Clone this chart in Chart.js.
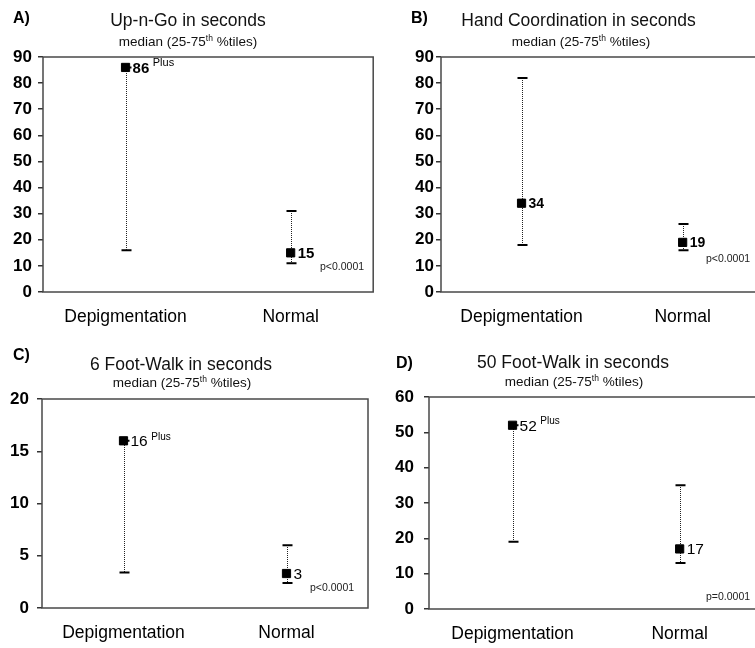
<!DOCTYPE html>
<html><head><meta charset="utf-8">
<script src="https://cdn.jsdelivr.net/npm/chart.js@4/dist/chart.umd.min.js"></script>
<style>
html,body{margin:0;padding:0;background:#fff;}
#wrap{position:relative;width:755px;height:648px;overflow:hidden;background:#fff;}
canvas{position:absolute;}
</style></head><body>
<div id="wrap">
<canvas id="cA" width="380" height="330" style="left:0;top:0;width:380px;height:330px"></canvas>
<canvas id="cB" width="392" height="330" style="left:378px;top:0;width:392px;height:330px"></canvas>
<canvas id="cC" width="380" height="328" style="left:0;top:320px;width:380px;height:328px"></canvas>
<canvas id="cD" width="392" height="328" style="left:378px;top:320px;width:392px;height:328px"></canvas>
</div>
<script>
// ---------- DATA ----------
const categories = ['Depigmentation', 'Normal'];
const panelLetters = ['A)', 'B)', 'C)', 'D)'];
const panelTitles = ['Up-n-Go in seconds', 'Hand Coordination in seconds', '6 Foot-Walk in seconds', '50 Foot-Walk in seconds'];
const subtitleMain = 'median (25-75';
const subtitleSup = 'th';
const subtitleEnd = ' %tiles)';

const upAndGoMedian = [86, 15];
const upAndGoQ1 = [16, 11];
const upAndGoQ3 = [86, 31];
const upAndGoLabels = ['86', '15'];

const handCoordMedian = [34, 19];
const handCoordQ1 = [18, 16];
const handCoordQ3 = [82, 26];
const handCoordLabels = ['34', '19'];

const walk6Median = [16, 3.3];
const walk6Q1 = [3.4, 2.4];
const walk6Q3 = [16, 6];
const walk6Labels = ['16', '3'];

const walk50Median = [52, 17];
const walk50Q1 = [19, 13];
const walk50Q3 = [52, 35];
const walk50Labels = ['52', '17'];

const plusFlags = [[true, false], [false, false], [true, false], [true, false]];
const plusText = 'Plus';
const pValues = ['p<0.0001', 'p<0.0001', 'p<0.0001', 'p=0.0001'];
const yMaxValues = [90, 90, 20, 60];
const yStepValues = [10, 10, 5, 10];

const medians = [upAndGoMedian, handCoordMedian, walk6Median, walk50Median];
const q1s = [upAndGoQ1, handCoordQ1, walk6Q1, walk50Q1];
const q3s = [upAndGoQ3, handCoordQ3, walk6Q3, walk50Q3];
const medianLabels = [upAndGoLabels, handCoordLabels, walk6Labels, walk50Labels];

// ---------- LAYOUT / STYLE ----------
const FONT = '"Liberation Sans", Arial, Helvetica, sans-serif';
const LAYOUT = [
  {id:'cA', yW:43, padTop:57, padRight:2, xH:38, tickPad:6, xPad:15,
   title:[188,26], sub:[188,46], letter:[13,23], p:[320,267], valFont:'bold 15px', plusFont:'11px'},
  {id:'cB', yW:63, padTop:57, padRight:5, xH:38, tickPad:2, xPad:15,
   title:[200.5,26], sub:[203,46], letter:[33,23], p:[328,259], valFont:'bold 14px', plusFont:'10px'},
  {id:'cC', yW:42, padTop:79, padRight:12, xH:40, tickPad:8, xPad:15,
   title:[181,50], sub:[182,66.7], letter:[13,39.5], p:[310,268], valFont:'15.5px', plusFont:'10px'},
  {id:'cD', yW:51, padTop:77, padRight:5, xH:39, tickPad:10, xPad:14.5,
   title:[195,48.3], sub:[196,66], letter:[18,48.3], p:[328,277], valFont:'15.5px', plusFont:'10px'}
];

Chart.defaults.font.family = FONT;
Chart.defaults.color = '#000';

const panelPlugin = {
  id: 'panelDeco',
  beforeDatasetsDraw(chart, args, o) {
    const {ctx, chartArea: ca, scales: {x, y}} = chart;
    ctx.save();
    // frame
    ctx.strokeStyle = '#484848';
    ctx.lineWidth = 1.5;
    ctx.strokeRect(ca.left, ca.top, ca.right - ca.left, ca.bottom - ca.top);
    // error bars (25-75th percentiles)
    for (let i = 0; i < o.q1.length; i++) {
      const px = Math.round(x.getPixelForValue(i)) + 0.5;
      const yt = y.getPixelForValue(o.q3[i]);
      const yb = y.getPixelForValue(o.q1[i]);
      ctx.strokeStyle = '#222';
      ctx.lineWidth = 1;
      ctx.setLineDash([1, 1]);
      ctx.beginPath(); ctx.moveTo(px, Math.round(yt)); ctx.lineTo(px, Math.round(yb)); ctx.stroke();
      ctx.setLineDash([]);
      ctx.strokeStyle = '#000';
      ctx.lineWidth = 2;
      ctx.beginPath();
      ctx.moveTo(px - 5, yt); ctx.lineTo(px + 5, yt);
      ctx.moveTo(px - 5, yb); ctx.lineTo(px + 5, yb);
      ctx.stroke();
    }
    ctx.restore();
  },
  afterDraw(chart, args, o) {
    const {ctx} = chart;
    const L = o.layout;
    ctx.save();
    ctx.fillStyle = '#000';
    ctx.textBaseline = 'alphabetic';
    // letter
    ctx.font = 'bold 16px ' + FONT;
    ctx.textAlign = 'left';
    ctx.fillText(o.letter, L.letter[0], L.letter[1]);
    // title
    ctx.font = '17.5px ' + FONT;
    ctx.textAlign = 'center';
    ctx.fillStyle = '#111';
    ctx.fillText(o.title, L.title[0], L.title[1]);
    // subtitle with superscript
    ctx.textAlign = 'left';
    const mainF = '13.5px ' + FONT, supF = '8.5px ' + FONT;
    ctx.font = mainF; const w1 = ctx.measureText(subtitleMain).width;
    const w3 = ctx.measureText(subtitleEnd).width;
    ctx.font = supF; const w2 = ctx.measureText(subtitleSup).width;
    let sx = L.sub[0] - (w1 + w2 + w3) / 2;
    ctx.font = mainF; ctx.fillText(subtitleMain, sx, L.sub[1]);
    ctx.font = supF; ctx.fillText(subtitleSup, sx + w1, L.sub[1] - 5);
    ctx.font = mainF; ctx.fillText(subtitleEnd, sx + w1 + w2, L.sub[1]);
    // median value labels
    const meta = chart.getDatasetMeta(0);
    meta.data.forEach((pt, i) => {
      ctx.font = L.valFont + ' ' + FONT;
      ctx.textBaseline = 'middle';
      ctx.textAlign = 'left';
      ctx.fillStyle = '#000';
      const tx = pt.x + 7;
      ctx.fillText(o.labels[i], tx, pt.y + 1);
      if (o.plus[i]) {
        const w = ctx.measureText(o.labels[i]).width;
        ctx.font = L.plusFont + ' ' + FONT;
        ctx.fillText(plusText, tx + w + 3.5, pt.y - 4);
      }
    });
    // p value
    ctx.font = '10.5px ' + FONT;
    ctx.textBaseline = 'middle';
    ctx.fillStyle = '#222';
    ctx.fillText(o.p, L.p[0], L.p[1]);
    ctx.restore();
  }
};

LAYOUT.forEach((L, k) => {
  new Chart(document.getElementById(L.id), {
    type: 'line',
    data: {
      labels: categories,
      datasets: [{
        data: medians[k],
        showLine: false,
        pointStyle: 'rect',
        pointRadius: 5.8,
        pointBorderWidth: 1,
        pointBackgroundColor: '#000',
        pointBorderColor: '#000'
      }]
    },
    options: {
      responsive: false,
      animation: false,
      events: [],
      layout: {padding: {top: L.padTop, right: L.padRight, left: 0, bottom: 0}},
      plugins: {
        legend: {display: false},
        tooltip: {enabled: false},
        title: {display: false},
        panelDeco: {
          layout: L, q1: q1s[k], q3: q3s[k], labels: medianLabels[k], plus: plusFlags[k],
          p: pValues[k], title: panelTitles[k], letter: panelLetters[k]
        }
      },
      scales: {
        x: {
          type: 'category',
          offset: true,
          grid: {display: false, drawTicks: false},
          border: {display: false},
          ticks: {font: {size: 17.5}, color: '#000', padding: L.xPad, maxRotation: 0},
          afterFit(s) { s.height = L.xH; }
        },
        y: {
          min: 0, max: yMaxValues[k],
          grid: {display: true, drawOnChartArea: false, drawTicks: true, tickLength: 5, color: '#333', lineWidth: 1.5},
          border: {display: false},
          ticks: {stepSize: yStepValues[k], font: {size: 17, weight: 'bold'}, color: '#000', padding: L.tickPad},
          afterFit(s) { s.width = L.yW; }
        }
      }
    },
    plugins: [panelPlugin]
  });
});
</script>
</body></html>
